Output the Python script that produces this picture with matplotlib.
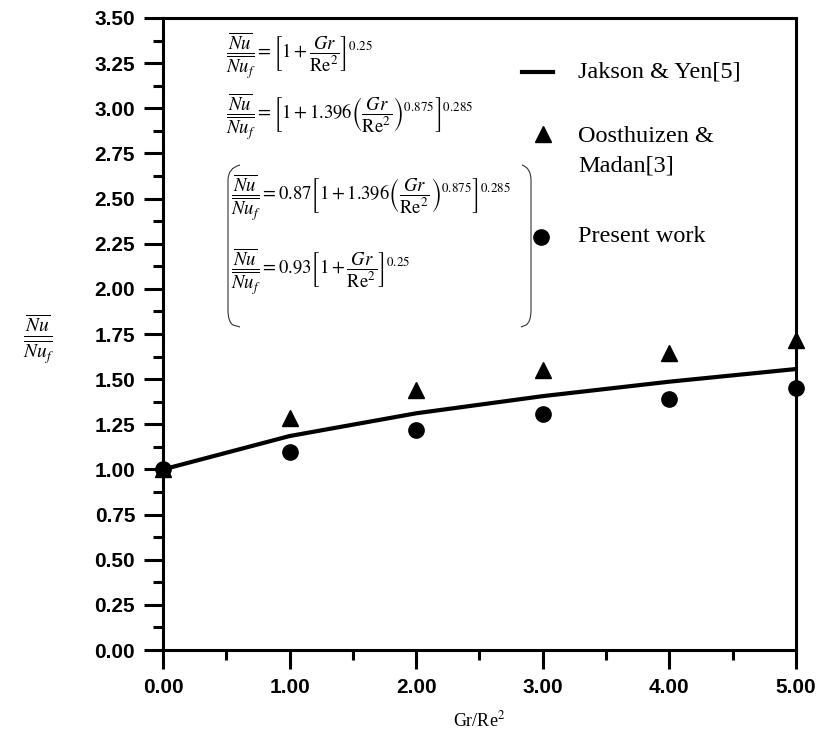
import matplotlib.pyplot as plt
from matplotlib.path import Path
from matplotlib.patches import PathPatch
from matplotlib.lines import Line2D
from matplotlib.ticker import MultipleLocator, FormatStrFormatter

plt.rcParams['mathtext.fontset'] = 'stix'

# datos
gr_re2 = [0, 1, 2, 3, 4, 5]
jakson_yen = [1.00, 1.185, 1.311, 1.406, 1.486, 1.556]
oosthuizen = [1.00, 1.283, 1.44, 1.55, 1.643, 1.716]
present = [1.00, 1.098, 1.218, 1.307, 1.388, 1.449]

fig = plt.figure(figsize=(8.2, 7.37), dpi=100)
ax = fig.add_axes([0.1988, 0.118, 0.7719, 0.8576])

ax.plot(gr_re2, jakson_yen, color='black', lw=3, zorder=3)
ax.plot(gr_re2, oosthuizen, '^', color='black', ms=12, ls='none',
        clip_on=False, zorder=4)
ax.plot(gr_re2, present, 'o', color='black', ms=11, ls='none',
        clip_on=False, zorder=4)

ax.set_xlim(0, 5)
ax.set_ylim(0, 3.5)
ax.xaxis.set_major_locator(MultipleLocator(1))
ax.xaxis.set_minor_locator(MultipleLocator(0.5))
ax.yaxis.set_major_locator(MultipleLocator(0.25))
ax.yaxis.set_minor_locator(MultipleLocator(0.125))
ax.xaxis.set_major_formatter(FormatStrFormatter('%.2f'))
ax.yaxis.set_major_formatter(FormatStrFormatter('%.2f'))

for s in ax.spines.values():
    s.set_linewidth(2.2)
ax.tick_params(which='major', direction='out', length=14, width=2.2, pad=6)
ax.tick_params(which='minor', direction='out', length=7, width=2.2)
for lab in ax.get_xticklabels() + ax.get_yticklabels():
    lab.set_fontfamily('Liberation Sans')
    lab.set_fontweight('bold')
    lab.set_fontsize(15)

ax.set_xlabel(r'Gr/Re$^2$', family='Liberation Serif', fontsize=13, labelpad=10)
fig.text(0.047, 0.54, r'$\frac{\overline{Nu}}{\overline{Nu_f}}$', fontsize=20,
         ha='center', va='center')

def fx(px):
    return px / 820

def fy(py):
    return 1 - py / 737

# ecuaciones
eq1 = r'$\dfrac{\overline{Nu}}{\overline{Nu_f}}=\left[1+\dfrac{Gr}{\mathrm{Re}^2}\right]^{0.25}$'
eq2 = r'$\dfrac{\overline{Nu}}{\overline{Nu_f}}=\left[1+1.396\left(\dfrac{Gr}{\mathrm{Re}^2}\right)^{0.875}\right]^{0.285}$'
eq3 = r'$\dfrac{\overline{Nu}}{\overline{Nu_f}}=0.87\left[1+1.396\left(\dfrac{Gr}{\mathrm{Re}^2}\right)^{0.875}\right]^{0.285}$'
eq4 = r'$\dfrac{\overline{Nu}}{\overline{Nu_f}}=0.93\left[1+\dfrac{Gr}{\mathrm{Re}^2}\right]^{0.25}$'
eq_size = 13.4
fig.text(fx(226), fy(56), eq1, fontsize=eq_size, va='center')
fig.text(fx(226), fy(117), eq2, fontsize=eq_size, va='center')
fig.text(fx(231), fy(198), eq3, fontsize=eq_size, va='center')
fig.text(fx(231), fy(272), eq4, fontsize=eq_size, va='center')

# parentesis grandes
left = Path([(fx(240), fy(165)), (fx(228), fy(168)), (fx(228), fy(180)),
             (fx(228), fy(310)),
             (fx(228), fy(322)), (fx(233), fy(325)), (fx(240), fy(327))],
            [Path.MOVETO, Path.CURVE3, Path.CURVE3, Path.LINETO,
             Path.CURVE3, Path.CURVE3, Path.LINETO])
right = Path([(fx(522), fy(165)), (fx(531), fy(168)), (fx(531), fy(180)),
              (fx(531), fy(310)),
              (fx(531), fy(322)), (fx(526), fy(325)), (fx(521), fy(327))],
             [Path.MOVETO, Path.CURVE3, Path.CURVE3, Path.LINETO,
              Path.CURVE3, Path.CURVE3, Path.LINETO])
for p in (left, right):
    fig.patches.append(PathPatch(p, transform=fig.transFigure, fill=False,
                                 lw=0.8, edgecolor='#333333'))

# leyenda manual
leg_font = {'family': 'Liberation Serif', 'size': 17.5}
fig.lines.append(Line2D([fx(522), fx(553)], [fy(72), fy(72)], color='black',
                        lw=3, transform=fig.transFigure))
fig.lines.append(Line2D([fx(543)], [fy(134)], marker='^', ms=12, color='black',
                        transform=fig.transFigure))
fig.lines.append(Line2D([fx(541)], [fy(237)], marker='o', ms=11, color='black',
                        transform=fig.transFigure))
fig.text(fx(578), fy(72), 'Jakson & Yen[5]', va='center', **leg_font)
fig.text(fx(578), fy(126), 'Oosthuizen &\nMadan[3]', va='top', linespacing=1.53,
         **leg_font)
fig.text(fx(578), fy(237), 'Present work', va='center', **leg_font)

fig.savefig('out.png', dpi=100)
